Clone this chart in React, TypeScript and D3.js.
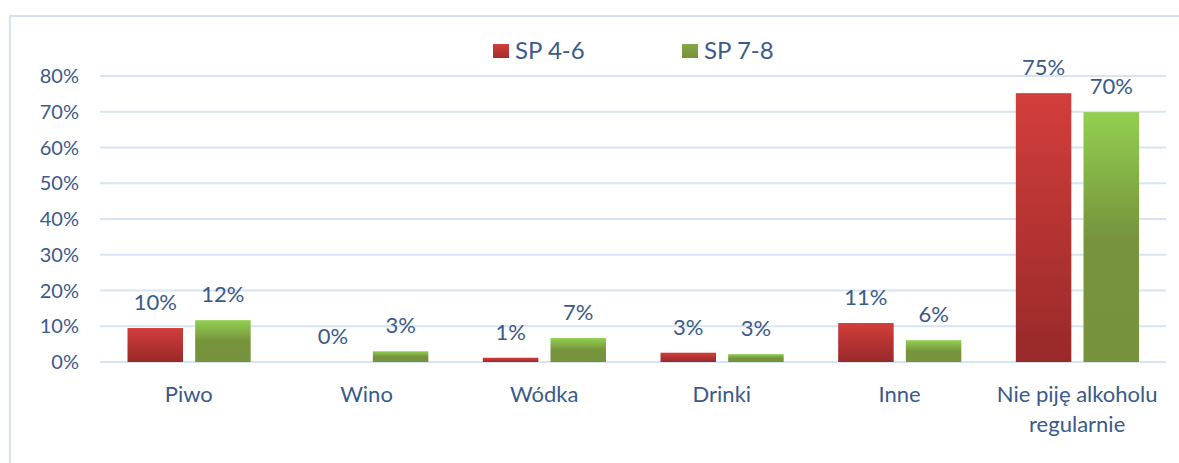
import React from 'react';
import * as d3 from 'd3';

const categories = ['Piwo', 'Wino', 'Wódka', 'Drinki', 'Inne', 'Nie piję alkoholu regularnie'];
const seriesNames = ['SP 4-6', 'SP 7-8'];
const sp46 = [9.5, 0, 1.2, 2.6, 10.9, 75.2];
const sp78 = [11.7, 3, 6.7, 2.2, 6.1, 69.9];
const sp46Labels = ['10%', '0%', '1%', '3%', '11%', '75%'];
const sp78Labels = ['12%', '3%', '7%', '3%', '6%', '70%'];
const yTicks = [0, 10, 20, 30, 40, 50, 60, 70, 80];

const W = 1179;
const H = 463;
const margin = { left: 100, right: 13, top: 76, bottom: 101 };
const FONT = 'Lato, "Open Sans", sans-serif';
const TEXT = '#3a5a8a';

const App = () => {
  const x = d3.scaleBand().domain(categories).range([margin.left, W - margin.right]);
  const y = d3.scaleLinear().domain([0, 80]).range([H - margin.bottom, margin.top]);
  const inner = d3
    .scaleBand()
    .domain(seriesNames)
    .range([27.5, x.bandwidth() - 27])
    .paddingInner(0.18);

  const series = [
    { name: seriesNames[0], values: sp46, labels: sp46Labels, fill: 'url(#gRed)', swatch: 'url(#gRedS)' },
    { name: seriesNames[1], values: sp78, labels: sp78Labels, fill: 'url(#gGreen)', swatch: 'url(#gGreenS)' },
  ];

  const wrap = (s: string) => (s.length > 12 ? ['Nie piję alkoholu', 'regularnie'] : [s]);

  return (
    <svg width={W} height={H} style={{ position: 'absolute', left: 0, top: 0, fontFamily: FONT }}>
      <defs>
        <linearGradient id="gRed" x1="0" y1="0" x2="0" y2="1">
          <stop offset="0%" stopColor="#d23e3b" />
          <stop offset="100%" stopColor="#98292a" />
        </linearGradient>
        <linearGradient id="gGreen" x1="0" y1="0" x2="0" y2="1">
          <stop offset="0%" stopColor="#92d050" />
          <stop offset="50%" stopColor="#77943d" />
          <stop offset="100%" stopColor="#76923c" />
        </linearGradient>
        <linearGradient id="gRedS" x1="0" y1="0" x2="0" y2="1">
          <stop offset="0%" stopColor="#d23e3b" />
          <stop offset="100%" stopColor="#a52d2b" />
        </linearGradient>
        <linearGradient id="gGreenS" x1="0" y1="0" x2="0" y2="1">
          <stop offset="0%" stopColor="#82a845" />
          <stop offset="100%" stopColor="#76923c" />
        </linearGradient>
      </defs>
      <rect x={0} y={0} width={W} height={H} fill="#fff" />
      {/* chart border */}
      <path d={`M10,${H} V16 H${W}`} fill="none" stroke="#d4e2f4" strokeWidth={2} />

      {/* grid + y labels */}
      {yTicks.map((t) => (
        <g key={t}>
          <line x1={margin.left} x2={W - margin.right} y1={y(t)} y2={y(t)} stroke="#d7e4f4" strokeWidth={2} />
          <text x={79} y={y(t)} dy="0.36em" textAnchor="end" fontSize={20} fill={TEXT}>
            {t}%
          </text>
        </g>
      ))}

      {/* bars */}
      {series.map((s) =>
        categories.map((c, i) => {
          const bx = (x(c) ?? 0) + (inner(s.name) ?? 0);
          const bw = inner.bandwidth();
          const top = y(s.values[i]);
          const h = y(0) - top;
          return (
            <g key={s.name + c}>
              {h > 0 && <rect x={bx} y={top} width={bw} height={h} fill={s.fill} />}
              <text x={bx + bw / 2} y={top - 18} textAnchor="middle" fontSize={22} fill={TEXT}>
                {s.labels[i]}
              </text>
            </g>
          );
        })
      )}

      {/* category labels */}
      {categories.map((c) => (
        <text key={c} y={402} textAnchor="middle" fontSize={22} fill={TEXT}>
          {wrap(c).map((line, k) => (
            <tspan key={k} x={(x(c) ?? 0) + x.bandwidth() / 2} dy={k === 0 ? 0 : 30}>
              {line}
            </tspan>
          ))}
        </text>
      ))}

      {/* legend */}
      {series.map((s, k) => {
        const lx = 493 + k * 189;
        return (
          <g key={s.name}>
            <rect x={lx} y={44} width={16} height={14} fill={s.swatch} />
            <text x={lx + 22} y={59} fontSize={24} fill={TEXT}>
              {s.name}
            </text>
          </g>
        );
      })}
    </svg>
  );
};

export default App;
